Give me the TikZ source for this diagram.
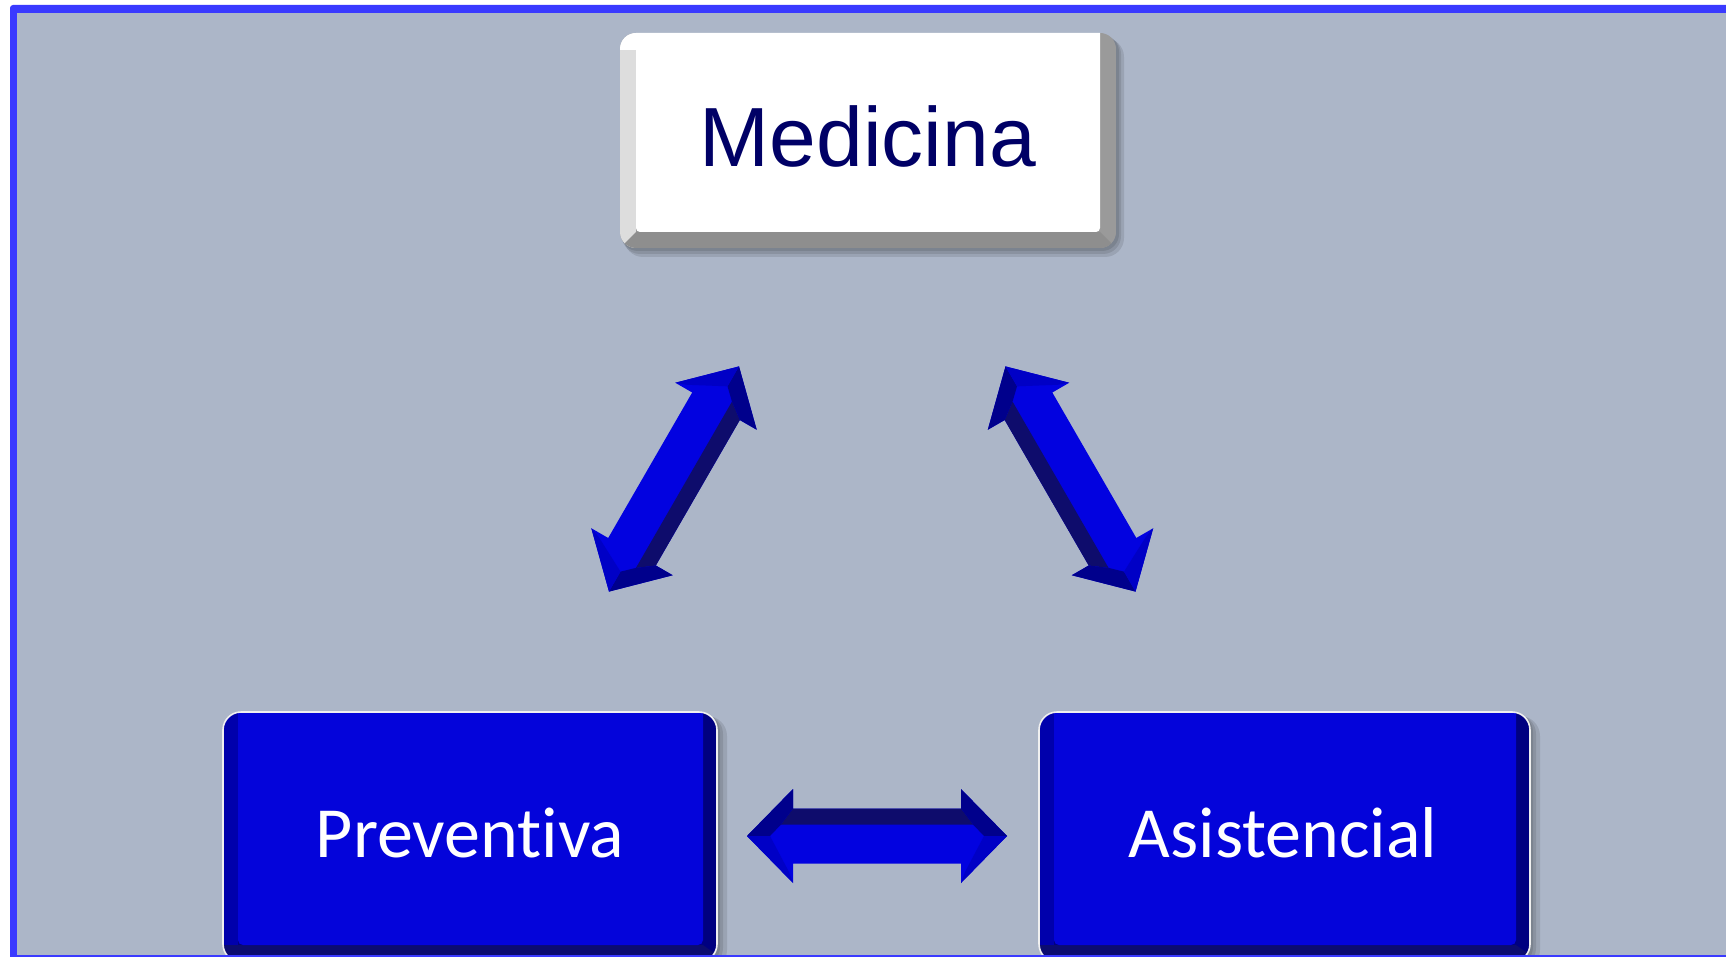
\documentclass[tikz,border=0pt]{standalone}
\usepackage{fontspec}
\setmainfont{Liberation Sans}
\newfontfamily\calib[Ligatures=NoCommon]{Carlito}
\definecolor{bg}{RGB}{172,182,200}
\definecolor{frameblue}{RGB}{58,58,255}
\definecolor{bface}{RGB}{4,4,218}
\definecolor{bbevL}{RGB}{0,0,172}
\definecolor{bbevR}{RGB}{0,0,128}
\definecolor{bbevB}{RGB}{12,12,112}
\definecolor{afront}{RGB}{2,2,224}
\definecolor{aside}{RGB}{14,12,108}
\definecolor{ahead}{RGB}{0,0,140}
\definecolor{amid}{RGB}{0,0,198}
\definecolor{medtext}{RGB}{0,0,102}
\definecolor{gbevL}{RGB}{221,221,221}
\definecolor{gbevR}{RGB}{154,154,154}
\definecolor{gbevB}{RGB}{142,142,142}
\tikzset{
  boxshadow/.style={black,opacity=0.10},
  medlabel/.style={font=\fontsize{84}{84}\selectfont, text=medtext, anchor=base, inner sep=0pt},
  bluelabel/.style={font=\calib\fontsize{72}{72}\selectfont, text=white, anchor=base, inner sep=0pt}
}
\newcommand\bigdarrow[3]{%
\begin{scope}[shift={(#1,#2)}, rotate=#3]
 \fill[afront] (130,0) -- (84,-47) -- (84,-27.5) -- (-84,-27.5) -- (-84,-47) -- (-130,0) -- (-84,47) -- (-84,27.5) -- (84,27.5) -- (84,47) -- cycle;
 \fill[aside] (-84,-27.5) -- (84,-27.5) -- (96,-11.5) -- (-96,-11.5) -- cycle;
 \fill[ahead] (130,0) -- (84,-47) -- (84,-27.5) -- (96,-11.5) -- (107,0) -- cycle;
 \fill[ahead] (-130,0) -- (-84,-47) -- (-84,-27.5) -- (-96,-11.5) -- (-107,0) -- cycle;
 \fill[amid] (130,0) -- (84,47) -- (88,36) -- (107,0) -- cycle;
 \fill[amid] (-130,0) -- (-84,47) -- (-88,36) -- (-107,0) -- cycle;
\end{scope}}
\newcommand\bluebox[4]{% left, top, right, bottom
 \fill[boxshadow,rounded corners=20] ({#1+2},{#2+4}) rectangle ({#3+10},{#4+8});
 \fill[boxshadow,rounded corners=19] ({#1+2},{#2+3}) rectangle ({#3+6},{#4+5});
 \fill[boxshadow,rounded corners=18] ({#1+2},{#2+2}) rectangle ({#3+3},{#4+3});
 \begin{scope}
  \clip[rounded corners=18] (#1,#2) rectangle (#3,#4);
  \fill[bbevR] (#1,#2) rectangle (#3,#4);
  \fill[bbevL] (#1,#2) rectangle ({#1+15},#4);
  \fill[bbevB] (#1,{#4-17}) -- ({#1+15},{#4-17}) -- ({#3-14},{#4-17}) -- (#3,{#4-7}) -- (#3,#4) -- (#1,#4) -- cycle;
  \fill[bface, rounded corners=5] ({#1+15},{#2-10}) rectangle ({#3-14},{#4-17});
 \end{scope}
 \draw[white!88!gray, line width=1.6, rounded corners=18] (#1,#2) rectangle (#3,#4);
}
\begin{document}
\begin{tikzpicture}[x=1pt,y=-1pt]
\useasboundingbox (0,0) rectangle (1726,957);
\clip (0,0) rectangle (1726,957);
\fill[white] (0,0) rectangle (1726,957);
\fill[frameblue, rounded corners=3] (10,5) rectangle (1760,990);
\fill[bg] (17,13) rectangle (1760,955);

% Medicina box
\fill[boxshadow,rounded corners=19] (624,38) rectangle (1124,257);
\fill[boxshadow,rounded corners=18] (622,36) rectangle (1121,254);
\fill[boxshadow,rounded corners=17] (621,35) rectangle (1119,251);
\begin{scope}
 \clip[rounded corners=16] (620,33) rectangle (1116,248);
 \fill[gbevR] (620,33) rectangle (1116,248);
 \fill[gbevL] (620,33) rectangle (636,248);
 \fill[gbevB] (620,248) -- (636,232) -- (1100,232) -- (1116,248) -- cycle;
 \fill[white, rounded corners=4] (636,20) rectangle (1100,232);
 \fill[white] (620,33) rectangle (640,50);
\end{scope}
\node[medlabel] (med) at (868,167) {Medicina};

% Preventiva and Asistencial boxes
\bluebox{223}{712}{717}{962}
\node[bluelabel] (prev) at (470,857) {Preventiva};
\bluebox{1039}{712}{1530}{962}
\node[bluelabel] (asis) at (1283,857) {Asistencial};

% three double arrows
\coordinate (arrL) at (674,479);
\coordinate (arrR) at (1070.5,479);
\coordinate (arrB) at (877,836);
\bigdarrow{674}{479}{240}
\bigdarrow{1070.5}{479}{120}
\bigdarrow{877}{836}{0}

% bottom frame line
\fill[frameblue] (10,955) rectangle (1760,957);
\end{tikzpicture}
\end{document}
